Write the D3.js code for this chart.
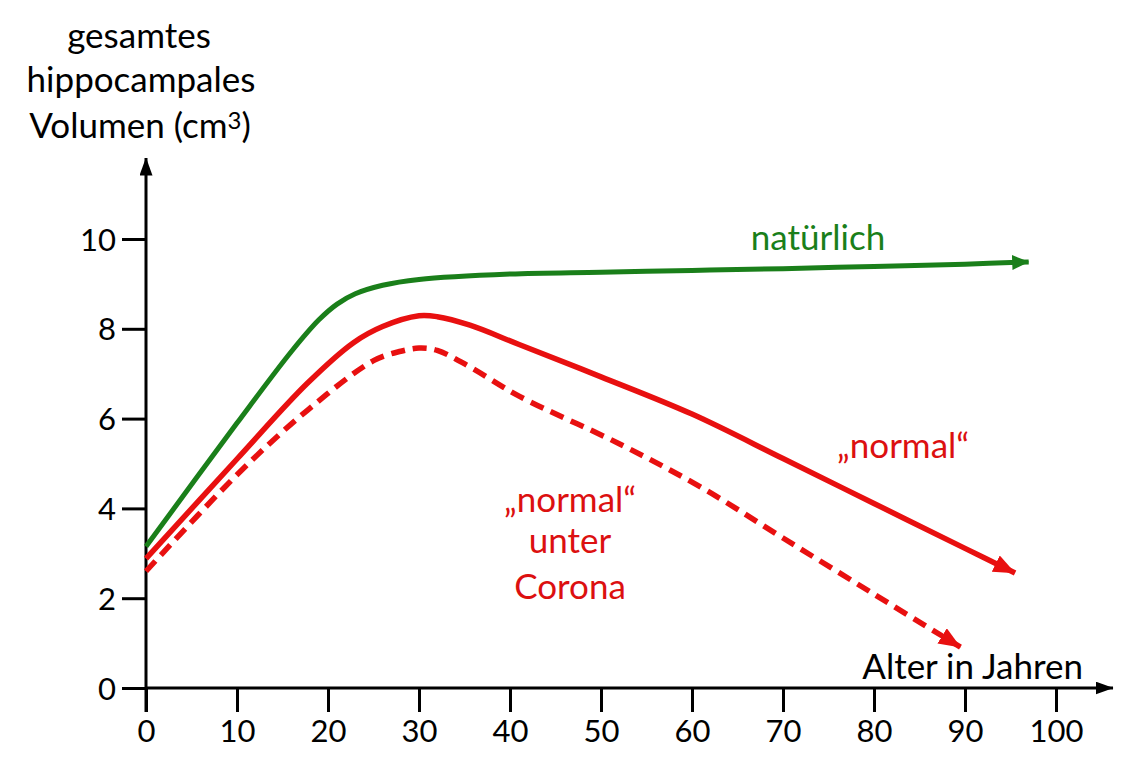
<!DOCTYPE html>
<html><head><meta charset="utf-8">
<script src="https://cdn.jsdelivr.net/npm/d3@7"></script>
<style>body{margin:0;background:#fff}svg{display:block}text{font-family:Lato,"Open Sans",sans-serif}</style>
</head><body>
<script>
const xTicks = [0,10,20,30,40,50,60,70,80,90,100];
const yTicks = [0,2,4,6,8,10];
const natuerlichAge = [0,10,16,19,21,23,26,30,40,50,60,70,80,90,97];
const natuerlichVal = [3.15,5.9,7.5,8.2,8.55,8.78,8.97,9.1,9.22,9.26,9.3,9.34,9.39,9.44,9.49];
const normalAge = [0,10,17.7,22.8,26,30,32,35.6,41,50,60,70,80,90,95.5];
const normalVal = [2.88,5.1,6.78,7.69,8.05,8.29,8.27,8.08,7.65,6.93,6.1,5.11,4.11,3.11,2.56];
const coronaAge = [0,10,17.7,25,28,30,32,35.6,41,52,61,70,80,89.5];
const coronaVal = [2.6,4.75,6.18,7.29,7.5,7.57,7.52,7.15,6.5,5.44,4.47,3.34,2.09,0.91];

const W = 1126, H = 760;
const svg = d3.select("body").append("svg").attr("width", W).attr("height", H);
const x = d3.scaleLinear().domain([0,100]).range([146,1056]);
const y = d3.scaleLinear().domain([0,10]).range([688,239]);

const defs = svg.append("defs");
function marker(id, color, len, wid){
  defs.append("marker").attr("id", id).attr("viewBox",`0 0 ${len} ${wid}`).attr("refX",len-0.5).attr("refY",wid/2)
    .attr("markerWidth", len).attr("markerHeight", wid).attr("markerUnits","userSpaceOnUse").attr("orient","auto")
    .append("path").attr("d",`M0,0L${len},${wid/2}L0,${wid}Z`).attr("fill", color);
}
marker("ab","#000",18,13);
marker("ag","#1a7f1a",17,15);
marker("ar","#e81010",22,18);

// axes
const g = svg.append("g");
g.append("line").attr("x1",x(0)).attr("x2",1113).attr("y1",y(0)).attr("y2",y(0))
  .attr("stroke","#000").attr("stroke-width",3).attr("marker-end","url(#ab)");
g.append("line").attr("x1",x(0)).attr("x2",x(0)).attr("y1",712).attr("y2",158)
  .attr("stroke","#000").attr("stroke-width",3).attr("marker-end","url(#ab)");
const xAxis = d3.axisBottom(x).tickValues(xTicks).tickSize(24).tickFormat(d3.format("d"));
const xa = g.append("g").attr("transform",`translate(0,${y(0)})`).call(xAxis);
const yAxis = d3.axisLeft(y).tickValues(yTicks).tickSize(24).tickPadding(6).tickFormat(d3.format("d"));
const ya = g.append("g").attr("transform",`translate(${x(0)},0)`).call(yAxis);
[xa,ya].forEach(a=>{
  a.select(".domain").remove();
  a.selectAll(".tick line").attr("stroke","#000").attr("stroke-width",3);
  a.selectAll(".tick text").attr("font-size",31).attr("fill","#000");
});
xa.selectAll(".tick text").attr("y",54).attr("dy",0);
ya.selectAll(".tick text").attr("dy","0.36em");

// series
const line = d3.line().x(d=>x(d[0])).y(d=>y(d[1])).curve(d3.curveCatmullRom.alpha(0.5));
const zip = (a,b)=>a.map((v,i)=>[v,b[i]]);
svg.append("path").datum(zip(natuerlichAge,natuerlichVal)).attr("d",line)
  .attr("fill","none").attr("stroke","#1a7f1a").attr("stroke-width",5).attr("marker-end","url(#ag)");
svg.append("path").datum(zip(normalAge,normalVal)).attr("d",line)
  .attr("fill","none").attr("stroke","#e81010").attr("stroke-width",5.5).attr("marker-end","url(#ar)");
svg.append("path").datum(zip(coronaAge,coronaVal)).attr("d",line)
  .attr("fill","none").attr("stroke","#e81010").attr("stroke-width",5.5)
  .attr("stroke-dasharray","14,8").attr("marker-end","url(#ar)");

// labels
const fs = 35;
svg.append("text").attr("x",818).attr("y",250).attr("text-anchor","middle").attr("font-size",fs).attr("fill","#1a7f1a").text("natürlich");
svg.append("text").attr("x",903).attr("y",458).attr("text-anchor","middle").attr("font-size",fs).attr("fill","#dc1010").text("„normal“");
const cl = svg.append("text").attr("text-anchor","middle").attr("font-size",fs).attr("fill","#dc1010");
[["„normal“",512],["unter",553],["Corona",599]].forEach(([t,yy])=>cl.append("tspan").attr("x",570).attr("y",yy).text(t));
svg.append("text").attr("x",1083).attr("y",679).attr("text-anchor","end").attr("font-size",fs).attr("fill","#000").text("Alter in Jahren");
const yl = svg.append("text").attr("text-anchor","middle").attr("font-size",fs).attr("fill","#000");
yl.append("tspan").attr("x",139).attr("y",48).text("gesamtes");
yl.append("tspan").attr("x",141).attr("y",92).text("hippocampales");
yl.append("tspan").attr("x",140).attr("y",138).text("Volumen (cm");
yl.append("tspan").attr("font-size",24).attr("dy",-9).text("3");
yl.append("tspan").attr("dy",9).text(")");
</script>
</body></html>
